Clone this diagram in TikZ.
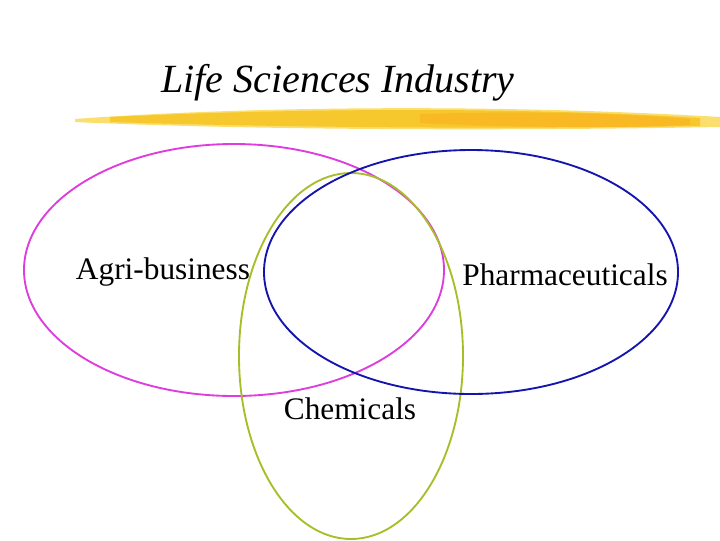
\documentclass[tikz,border=0pt]{standalone}
\usepackage{fontspec}
\setmainfont{Liberation Serif}
\definecolor{agri}{RGB}{222,60,222}
\definecolor{pharma}{RGB}{20,20,175}
\definecolor{chem}{RGB}{168,190,40}
\definecolor{brush}{RGB}{246,200,45}
\definecolor{brushlight}{RGB}{250,222,110}
\begin{document}
\begin{tikzpicture}[x=0.75pt,y=-0.75pt,font=\fontsize{23.5}{28}\selectfont,line width=1.4pt]
    \useasboundingbox (0,0) rectangle (720,540);
    \node (title) at (338, 83) {\fontsize{30}{36}\selectfont\itshape Life Sciences Industry};
    % brush stroke under the title
    \fill[brushlight] (75, 119) .. controls (250, 106) and (500, 104) .. (720, 117)
      -- (720, 127) .. controls (500, 131) and (250, 130) .. (75, 122) -- cycle;
    \fill[brush] (110, 117) .. controls (300, 108) and (520, 107) .. (700, 118)
      -- (700, 126) .. controls (520, 129) and (300, 128) .. (110, 122) -- cycle;
    \fill[brush!80!orange] (420, 114) .. controls (520, 111) and (620, 113) .. (690, 119)
      -- (690, 125) .. controls (620, 128) and (520, 128) .. (420, 123) -- cycle;
    \draw[agri] (234, 270) ellipse (210 and 126);
    \draw[chem] (351, 356) ellipse (112 and 183);
    \draw[pharma] (471, 272) ellipse (207 and 122);
    \node (agri) at (163, 272) {Agri-business};
    \node (pharma) at (565, 275) {Pharmaceuticals};
    \node (chem) at (350, 409) {Chemicals};
  \end{tikzpicture}
\end{document}
